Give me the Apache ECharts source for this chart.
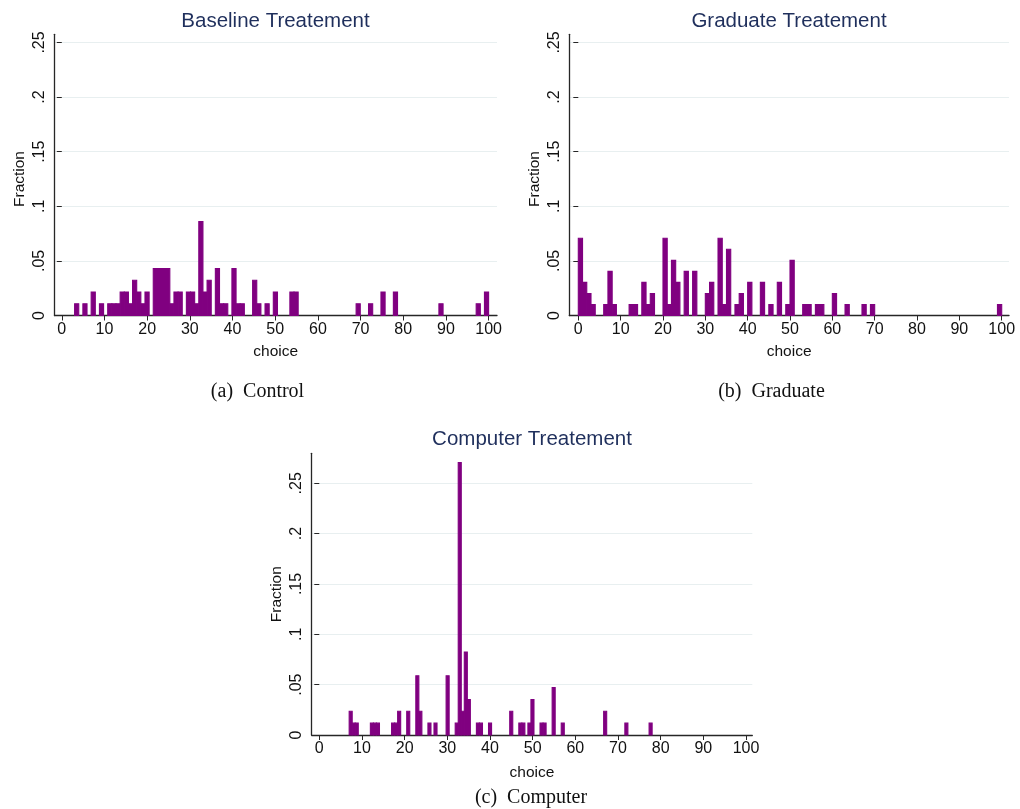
<!DOCTYPE html>
<html>
<head>
<meta charset="utf-8">
<title>Choice histograms by treatment</title>
<script src="https://cdn.jsdelivr.net/npm/echarts@6/dist/echarts.min.js"></script>
<style>
  html, body { margin: 0; padding: 0; background: #ffffff; }
  #chart { width: 1020px; height: 809px; }
</style>
</head>
<body>
<div id="chart"></div>
<script>
// Chosen numbers (0–100) and how many subjects picked each one, per treatment
const controlChoices  = [3, 5, 7, 9, 11, 12, 13, 14, 15, 16, 17, 18, 19, 20, 22, 23, 24, 25, 26, 27, 28, 30, 31, 32, 33, 34, 35, 36, 37, 38, 40, 41, 42, 45, 46, 48, 50, 54, 55, 69, 72, 75, 78, 89, 98, 100];
const controlCounts   = [1, 1, 2, 1, 1, 1, 1, 2, 2, 1, 3, 2, 1, 2, 4, 4, 4, 4, 1, 2, 2, 2, 2, 1, 8, 2, 3, 4, 1, 1, 4, 1, 1, 3, 1, 1, 2, 2, 2, 1, 1, 2, 2, 1, 1, 2];

const graduateChoices = [0, 1, 2, 3, 6, 7, 8, 12, 13, 15, 16, 17, 20, 21, 22, 23, 25, 27, 30, 31, 33, 34, 35, 37, 38, 40, 43, 45, 47, 49, 50, 53, 54, 56, 57, 60, 63, 67, 69, 100];
const graduateCounts  = [7, 3, 2, 1, 1, 4, 1, 1, 1, 3, 1, 2, 7, 1, 5, 3, 4, 4, 2, 3, 7, 1, 6, 1, 2, 3, 3, 1, 3, 1, 5, 1, 1, 1, 1, 2, 1, 1, 1, 1];

const computerChoices = [7, 8, 9, 12, 13, 14, 17, 18, 19, 21, 23, 24, 26, 27, 30, 32, 33, 33.3, 34, 35, 37, 38, 40, 45, 47, 48, 49, 50, 52, 53, 55, 57, 67, 72, 78];
const computerCounts  = [2, 1, 1, 1, 1, 1, 1, 1, 2, 2, 5, 2, 1, 1, 5, 1, 23, 2, 7, 3, 1, 1, 1, 2, 1, 1, 1, 3, 1, 1, 4, 1, 2, 1, 1];

const binCount = 100;

const choiceTicks = [0, 10, 20, 30, 40, 50, 60, 70, 80, 90, 100];
const fractionTicks = [0, 0.05, 0.1, 0.15, 0.2, 0.25];
const fractionTickLabels = ['0', '.05', '.1', '.15', '.2', '.25'];

const panelTitles = ['Baseline Treatement', 'Graduate Treatement', 'Computer Treatement'];
const panelCaptions = ['(a)  Control', '(b)  Graduate', '(c)  Computer'];
const xAxisName = 'choice';
const yAxisName = 'Fraction';

// Equal-width bins spanning [min, max] of the data; heights are fractions of all subjects
function histogram(choices, counts, nBins) {
  const lo = Math.min(...choices);
  const hi = Math.max(...choices);
  const w = (hi - lo) / nBins;
  const total = counts.reduce((a, b) => a + b, 0);
  const tally = new Array(nBins).fill(0);
  choices.forEach((c, i) => {
    let k = Math.floor((c - lo) / w);
    if (k >= nBins) k = nBins - 1;
    tally[k] += counts[i];
  });
  const out = [];
  tally.forEach((n, k) => {
    if (n > 0) out.push([lo + k * w, lo + (k + 1) * w, n / total]);
  });
  return out;
}

const SANS = '"Liberation Sans", Arial, Helvetica, sans-serif';
const SERIF = '"Liberation Serif", "Times New Roman", serif';
const BAR = '#800080';
const AXIS = '#262626';
const GRID_LINE = '#e8eff0';
const TITLE = '#1f2f5c';
const TEXT = '#111111';

// Pixel layout of each panel: frame edges, and where choice 0 and 100 fall
const panels = [
  { left: 54.5, right: 497, frameTop: 34.3, top25: 42.5, bottom: 315.5, zeroX: 61.8, hundredX: 488.6,
    titleX: 275.5, titleY: 21.5, captionX: 257.5, captionY: 392, choiceGap: 28, nameOnFrame: false,
    choices: controlChoices, counts: controlCounts },
  { left: 569.3, right: 1009, frameTop: 34.3, top25: 42.5, bottom: 315.5, zeroX: 578.3, hundredX: 1001.7,
    titleX: 789, titleY: 21.5, captionX: 771.5, captionY: 392, choiceGap: 28, nameOnFrame: false,
    choices: graduateChoices, counts: graduateCounts },
  { left: 311.7, right: 752.3, frameTop: 453.3, top25: 483.3, bottom: 735, zeroX: 319.3, hundredX: 746,
    titleX: 532, titleY: 439, captionX: 531, captionY: 798, choiceGap: 30, nameOnFrame: true,
    choices: computerChoices, counts: computerCounts }
];

const grid = [], xAxis = [], yAxis = [], series = [], graphic = [];

const nameStyle = { color: TEXT, fontFamily: SANS, fontSize: 15.5 };

panels.forEach((p, i) => {
  const pxPerUnit = (p.hundredX - p.zeroX) / 100;
  const xMin = (p.left - p.zeroX) / pxPerUnit;
  const xMax = (p.right - p.zeroX) / pxPerUnit;
  const a = 2 * i, b = 2 * i + 1;

  // plotting grid: choice scale and fraction 0–.25
  grid.push({ left: p.left, top: p.top25, width: p.right - p.left, height: p.bottom - p.top25 });
  // frame grid: only carries the taller vertical axis line
  grid.push({ left: p.left, top: p.frameTop, width: p.right - p.left, height: p.bottom - p.frameTop });

  xAxis.push({
    type: 'value', gridIndex: a, min: xMin, max: xMax,
    axisLine: { show: true, onZero: false, lineStyle: { color: AXIS, width: 1.3 } },
    axisTick: { show: true, customValues: choiceTicks, length: 5, lineStyle: { color: AXIS, width: 1 } },
    axisLabel: { customValues: choiceTicks, margin: 6, color: TEXT, fontFamily: SANS, fontSize: 16 },
    splitLine: { show: false },
    name: xAxisName, nameLocation: 'middle', nameGap: p.choiceGap, nameTextStyle: nameStyle
  });
  xAxis.push({ type: 'value', gridIndex: b, min: 0, max: 1, show: false });

  const fracAxis = {
    type: 'value', gridIndex: a, min: fractionTicks[0], max: fractionTicks[fractionTicks.length - 1], interval: 0.05,
    axisLine: { show: false },
    axisTick: { show: true, length: 5, lineStyle: { color: AXIS, width: 1 } },
    axisLabel: {
      rotate: 90, margin: 7, color: TEXT, fontFamily: SANS, fontSize: 16,
      formatter: v => fractionTickLabels[Math.round(v / 0.05)]
    },
    splitLine: { show: true, lineStyle: { color: GRID_LINE, width: 1.2 } }
  };
  const frameAxis = {
    type: 'value', gridIndex: b, min: 0, max: 1,
    axisLine: { show: true, onZero: false, lineStyle: { color: AXIS, width: 1.3 } },
    axisTick: { show: false }, axisLabel: { show: false }, splitLine: { show: false }
  };
  const named = p.nameOnFrame ? frameAxis : fracAxis;
  Object.assign(named, { name: yAxisName, nameLocation: 'middle', nameRotate: 90, nameGap: 27, nameTextStyle: nameStyle });
  yAxis.push(fracAxis, frameAxis);

  series.push({
    type: 'custom', xAxisIndex: a, yAxisIndex: a, clip: false, silent: true,
    data: histogram(p.choices, p.counts, binCount),
    encode: { x: [0, 1], y: 2 },
    renderItem(params, api) {
      const top = api.coord([api.value(0), api.value(2)]);
      const base = api.coord([api.value(1), 0]);
      return {
        type: 'rect',
        shape: { x: top[0], y: top[1], width: base[0] - top[0], height: base[1] - top[1] },
        style: { fill: BAR, stroke: BAR, lineWidth: 1.1 }
      };
    }
  });

  graphic.push({
    type: 'text', x: p.titleX, y: p.titleY, silent: true,
    style: { text: panelTitles[i], font: `20.5px ${SANS}`, fill: TITLE, align: 'center', verticalAlign: 'middle' }
  });
  graphic.push({
    type: 'text', x: p.captionX, y: p.captionY, silent: true,
    style: { text: panelCaptions[i], font: `20px ${SERIF}`, fill: TEXT, align: 'center', verticalAlign: 'middle' }
  });
});

const chart = echarts.init(document.getElementById('chart'), null, { renderer: 'canvas' });
chart.setOption({
  backgroundColor: '#ffffff',
  animation: false,
  grid, xAxis, yAxis, series, graphic
});
</script>
</body>
</html>
